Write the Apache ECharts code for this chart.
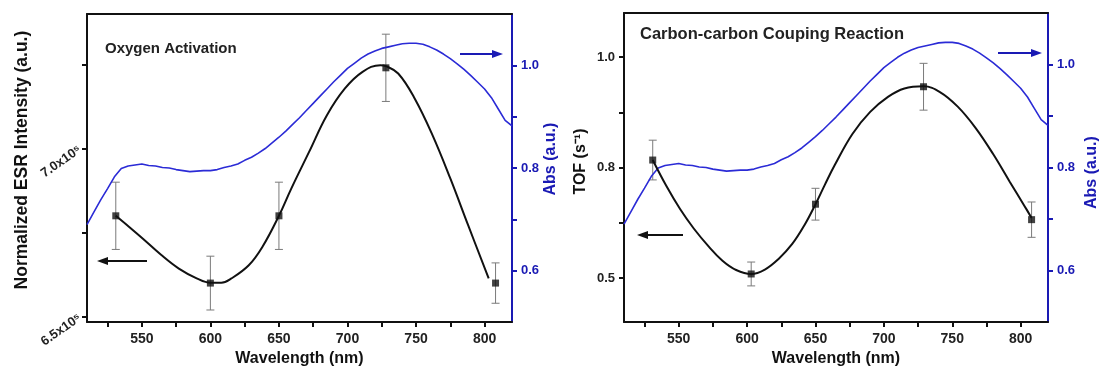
<!DOCTYPE html>
<html>
<head>
<meta charset="utf-8">
<script src="https://cdn.jsdelivr.net/npm/echarts@6/dist/echarts.min.js"></script>
<style>html,body{margin:0;padding:0;background:#fff;}</style>
</head>
<body>
<div id="main" style="width:1102px;height:372px;"></div>
<script type="text/javascript">
// absorption spectrum (same curve in both panels)
var absWave = [510, 515, 520, 525, 530, 535, 540, 545, 550, 555, 560, 565, 570, 575, 580, 585, 590, 595,
    600, 605, 610, 615, 620, 625, 630, 635, 640, 645, 650, 655, 660, 665, 670, 675, 680, 685, 690, 695,
    700, 705, 710, 715, 720, 725, 730, 735, 740, 745, 750, 755, 760, 765, 770, 775, 780, 785, 790, 795,
    800, 805, 810, 815, 820];
var absVal = [0.690, 0.714, 0.738, 0.760, 0.783, 0.799, 0.804, 0.806, 0.808, 0.805, 0.804, 0.801, 0.800, 0.797, 0.795, 0.793, 0.794, 0.795,
    0.795, 0.797, 0.801, 0.804, 0.808, 0.815, 0.821, 0.829, 0.838, 0.849, 0.860, 0.872, 0.885, 0.898, 0.912, 0.926, 0.940, 0.954, 0.968, 0.981,
    0.994, 1.004, 1.014, 1.022, 1.028, 1.033, 1.036, 1.039, 1.042, 1.043, 1.043, 1.041, 1.036, 1.030, 1.022, 1.013, 1.003, 0.992, 0.980, 0.967,
    0.954, 0.937, 0.915, 0.893, 0.882];

// left panel: oxygen activation (measured points + fitted curve)
var esrWave = [531, 600, 650, 728, 808];
var esrVal = [6.80e5, 6.60e5, 6.80e5, 7.24e5, 6.60e5];
var esrErr = [0.10e5, 0.08e5, 0.10e5, 0.10e5, 0.06e5];
var esrFitWave = [531, 541, 551, 564, 577, 590, 600, 608, 615, 628, 638, 650, 659, 672, 685, 698, 711, 724, 728, 737, 749, 762, 775, 788, 803];
var esrFitVal = [6.800e5, 6.766e5, 6.731e5, 6.684e5, 6.643e5, 6.614e5, 6.601e5, 6.601e5, 6.613e5, 6.653e5, 6.708e5, 6.800e5, 6.881e5,
    6.990e5, 7.099e5, 7.178e5, 7.228e5, 7.248e5, 7.245e5, 7.223e5, 7.149e5, 7.040e5, 6.911e5, 6.772e5, 6.614e5];

// right panel: carbon-carbon coupling (measured points + fitted curve)
var tofWave = [531, 603, 650, 729, 808];
var tofVal = [0.767, 0.509, 0.667, 0.933, 0.632];
var tofErr = [0.045, 0.027, 0.036, 0.053, 0.040];
var tofFitWave = [531, 541, 551, 561, 572, 582, 592, 603, 613, 623, 633, 642, 650, 657, 664, 677, 690, 703, 715, 729, 741, 754, 767, 780, 792, 803, 808];
var tofFitVal = [0.767, 0.708, 0.656, 0.612, 0.571, 0.539, 0.518, 0.509, 0.519, 0.543, 0.577, 0.620, 0.667, 0.712, 0.755, 0.826, 0.876,
    0.910, 0.929, 0.934, 0.921, 0.888, 0.840, 0.780, 0.718, 0.662, 0.636];

// ticks
var xTicks = [525, 550, 575, 600, 625, 650, 675, 700, 725, 750, 775, 800];
var xLabels = [550, 600, 650, 700, 750, 800];
var esrTicks = [6.5e5, 6.75e5, 7.0e5, 7.25e5];
var esrLabels = [6.5e5, 7.0e5];
var tofTicks = [0.5, 0.625, 0.75, 0.875, 1.0];
var tofLabels = [0.5, 0.75, 1.0];
var absTicks = [0.6, 0.7, 0.8, 0.9, 1.0];
var absLabels = [0.6, 0.8, 1.0];

var FONT = 'Liberation Sans';
var BLUE = '#1a1ab4';
var CURVE = '#2b2bd6';

var myChart = echarts.init(document.getElementById('main'));

function pairs(xs, ys) {
    return xs.map(function (x, i) { return [x, ys[i]]; });
}

function bottomAxis(g) {
    return {
        type: 'value', gridIndex: g, position: 'bottom', min: 510, max: 820,
        name: 'Wavelength (nm)', nameLocation: 'middle', nameGap: 24,
        nameTextStyle: {fontFamily: FONT, fontWeight: 'bold', fontSize: 16, color: '#111'},
        axisLine: {lineStyle: {color: '#111', width: 2}},
        axisTick: {show: true, length: 5, customValues: xTicks, lineStyle: {color: '#111', width: 2}},
        axisLabel: {customValues: xLabels, margin: 10, fontFamily: FONT, fontWeight: 'bold', fontSize: 14, color: '#222'},
        splitLine: {show: false}
    };
}

function topAxis(g) {
    return {
        type: 'value', gridIndex: g, position: 'top', min: 510, max: 820,
        axisLine: {lineStyle: {color: '#111', width: 2}},
        axisTick: {show: false}, axisLabel: {show: false}, splitLine: {show: false}
    };
}

function absAxis(g, gap, pad) {
    return {
        type: 'value', gridIndex: g, position: 'right', min: 0.5, max: 1.1,
        name: 'Abs (a.u.)', nameLocation: 'middle', nameGap: gap, nameRotate: 90,
        nameTextStyle: {fontFamily: FONT, fontWeight: 'bold', fontSize: 16, color: BLUE, padding: pad},
        axisLine: {show: true, lineStyle: {color: BLUE, width: 2}},
        axisTick: {show: true, length: 5, customValues: absTicks, lineStyle: {color: BLUE, width: 2}},
        axisLabel: {customValues: absLabels, margin: 9, fontFamily: FONT, fontWeight: 'bold', fontSize: 13, color: BLUE,
            formatter: function (v) { return v.toFixed(1); }},
        splitLine: {show: false}
    };
}

function errorBars(xs, ys, es, xi, yi) {
    return {
        type: 'custom', xAxisIndex: xi, yAxisIndex: yi, z: 1,
        encode: {x: 0, y: [1, 2]},
        data: xs.map(function (x, i) { return [x, ys[i] - es[i], ys[i] + es[i]]; }),
        renderItem: function (params, api) {
            var lo = api.coord([api.value(0), api.value(1)]);
            var hi = api.coord([api.value(0), api.value(2)]);
            var w = 4;
            var st = {stroke: '#7a7a7a', lineWidth: 1};
            return {type: 'group', children: [
                {type: 'line', shape: {x1: lo[0], y1: lo[1], x2: hi[0], y2: hi[1]}, style: st},
                {type: 'line', shape: {x1: lo[0] - w, y1: lo[1], x2: lo[0] + w, y2: lo[1]}, style: st},
                {type: 'line', shape: {x1: hi[0] - w, y1: hi[1], x2: hi[0] + w, y2: hi[1]}, style: st}
            ]};
        }
    };
}

function arrow(x1, x2, y, color, right) {
    var tip = right ? x2 : x1;
    var base = right ? x2 - 11 : x1 + 11;
    return {type: 'group', children: [
        {type: 'line', shape: {x1: right ? x1 : base, y1: y, x2: right ? base : x2, y2: y}, style: {stroke: color, lineWidth: 2}},
        {type: 'polygon', shape: {points: [[tip, y], [base, y - 4], [base, y + 4]]}, style: {fill: color}}
    ]};
}

function fitLine(xs, ys, xi, yi) {
    return {
        type: 'line', xAxisIndex: xi, yAxisIndex: yi, data: pairs(xs, ys), smooth: 0.4,
        symbol: 'none', lineStyle: {color: '#111', width: 2}, z: 3
    };
}

function points(xs, ys, xi, yi) {
    return {
        type: 'scatter', xAxisIndex: xi, yAxisIndex: yi, data: pairs(xs, ys),
        symbol: 'rect', symbolSize: 7, itemStyle: {color: '#111'}, z: 4
    };
}

option = {
    animation: false,
    backgroundColor: '#fff',
    grid: [
        {left: 87, top: 14, width: 425, height: 310},
        {left: 624, top: 13, width: 424, height: 311}
    ],
    xAxis: [bottomAxis(0), topAxis(0), bottomAxis(1), topAxis(1)],
    yAxis: [
        {
            type: 'value', gridIndex: 0, position: 'left', min: 6.484e5, max: 7.40e5,
            name: 'Normalized ESR Intensity (a.u.)', nameLocation: 'middle', nameGap: 56,
            nameTextStyle: {fontFamily: FONT, fontWeight: 'bold', fontSize: 17.5, color: '#111', padding: [0, 0, 0, 16]},
            axisLine: {show: true, lineStyle: {color: '#111', width: 2}},
            axisTick: {show: true, length: 5, customValues: esrTicks, lineStyle: {color: '#111', width: 2}},
            axisLabel: {customValues: esrLabels, rotate: 35, margin: 7, fontFamily: FONT, fontWeight: 'bold', fontSize: 13, color: '#222',
                formatter: function (v) { return (v / 1e5).toFixed(1) + 'x10⁵'; }},
            splitLine: {show: false}
        },
        absAxis(0, 30, [0, 0, 0, 18]),
        {
            type: 'value', gridIndex: 1, position: 'left', min: 0.4, max: 1.1,
            name: 'TOF (s⁻¹)', nameLocation: 'middle', nameGap: 35,
            nameTextStyle: {fontFamily: FONT, fontWeight: 'bold', fontSize: 16, color: '#111', padding: [0, 0, 0, 12]},
            axisLine: {show: true, lineStyle: {color: '#111', width: 2}},
            axisTick: {show: true, length: 5, customValues: tofTicks, lineStyle: {color: '#111', width: 2}},
            axisLabel: {customValues: tofLabels, margin: 9, fontFamily: FONT, fontWeight: 'bold', fontSize: 13, color: '#222',
                formatter: function (v) { return v.toFixed(1); }},
            splitLine: {show: false}
        },
        absAxis(1, 36, [0, 10, 0, 0])
    ],
    graphic: [
        {type: 'text', left: 105, top: 41, style: {text: 'Oxygen Activation', fontFamily: FONT, fontWeight: 'bold', fontSize: 15, fill: '#222'}},
        {type: 'text', left: 640, top: 26, style: {text: 'Carbon-carbon Couping Reaction', fontFamily: FONT, fontWeight: 'bold', fontSize: 16.5, fill: '#222'}},
        arrow(97, 147, 261, '#111', false),
        arrow(460, 503, 54, BLUE, true),
        arrow(637, 683, 235, '#111', false),
        arrow(998, 1042, 53, BLUE, true)
    ],
    series: [
        {
            type: 'line', xAxisIndex: 0, yAxisIndex: 1, data: pairs(absWave, absVal),
            symbol: 'none', lineStyle: {color: CURVE, width: 1.6}, z: 2
        },
        errorBars(esrWave, esrVal, esrErr, 0, 0),
        fitLine(esrFitWave, esrFitVal, 0, 0),
        points(esrWave, esrVal, 0, 0),
        {
            type: 'line', xAxisIndex: 2, yAxisIndex: 3, data: pairs(absWave, absVal),
            symbol: 'none', lineStyle: {color: CURVE, width: 1.6}, z: 2
        },
        errorBars(tofWave, tofVal, tofErr, 2, 2),
        fitLine(tofFitWave, tofFitVal, 2, 2),
        points(tofWave, tofVal, 2, 2)
    ]
};

myChart.setOption(option);
</script>
</body>
</html>
